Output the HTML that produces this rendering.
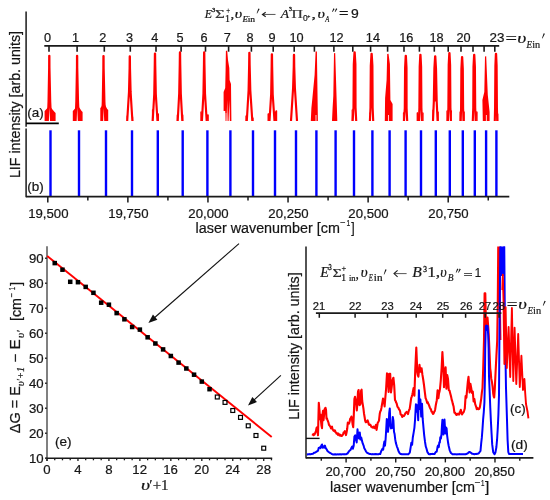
<!DOCTYPE html>
<html><head><meta charset="utf-8"><style>
html,body{margin:0;padding:0;background:#fff;width:550px;height:500px;overflow:hidden}
svg{display:block;will-change:transform}
svg text{stroke:#1a1a1a;stroke-width:0.22px}
</style></head><body>
<svg width="550" height="500" viewBox="0 0 550 500">
<rect width="550" height="500" fill="#fff"/>
<line x1="26.10" y1="11.50" x2="26.10" y2="126.80" stroke="#1a1a1a" stroke-width="1.5"/>
<line x1="26.10" y1="128.60" x2="26.10" y2="197.30" stroke="#1a1a1a" stroke-width="1.5"/>
<text transform="translate(19.80,176.90) rotate(-90) scale(1.0157,1)" x="-1.12" y="0" style="font-family:'Liberation Sans';font-size:14px;font-style:normal" fill="#151515">LIF intensity [arb. units]</text>
<line x1="44.30" y1="45.85" x2="499.20" y2="45.85" stroke="#1a1a1a" stroke-width="1.7"/>
<line x1="49.00" y1="45.85" x2="49.00" y2="51.70" stroke="#1a1a1a" stroke-width="1.6"/>
<line x1="77.10" y1="45.85" x2="77.10" y2="51.70" stroke="#1a1a1a" stroke-width="1.6"/>
<line x1="104.30" y1="45.85" x2="104.30" y2="51.70" stroke="#1a1a1a" stroke-width="1.6"/>
<line x1="130.30" y1="45.85" x2="130.30" y2="51.70" stroke="#1a1a1a" stroke-width="1.6"/>
<line x1="156.00" y1="45.85" x2="156.00" y2="51.70" stroke="#1a1a1a" stroke-width="1.6"/>
<line x1="181.10" y1="45.85" x2="181.10" y2="51.70" stroke="#1a1a1a" stroke-width="1.6"/>
<line x1="205.50" y1="45.85" x2="205.50" y2="51.70" stroke="#1a1a1a" stroke-width="1.6"/>
<line x1="228.60" y1="45.85" x2="228.60" y2="51.70" stroke="#1a1a1a" stroke-width="1.6"/>
<line x1="251.40" y1="45.85" x2="251.40" y2="51.70" stroke="#1a1a1a" stroke-width="1.6"/>
<line x1="273.20" y1="45.85" x2="273.20" y2="51.70" stroke="#1a1a1a" stroke-width="1.6"/>
<line x1="294.20" y1="45.85" x2="294.20" y2="51.70" stroke="#1a1a1a" stroke-width="1.6"/>
<line x1="314.40" y1="45.85" x2="314.40" y2="51.70" stroke="#1a1a1a" stroke-width="1.6"/>
<line x1="333.90" y1="45.85" x2="333.90" y2="51.70" stroke="#1a1a1a" stroke-width="1.6"/>
<line x1="352.80" y1="45.85" x2="352.80" y2="51.70" stroke="#1a1a1a" stroke-width="1.6"/>
<line x1="370.60" y1="45.85" x2="370.60" y2="51.70" stroke="#1a1a1a" stroke-width="1.6"/>
<line x1="387.60" y1="45.85" x2="387.60" y2="51.70" stroke="#1a1a1a" stroke-width="1.6"/>
<line x1="404.00" y1="45.85" x2="404.00" y2="51.70" stroke="#1a1a1a" stroke-width="1.6"/>
<line x1="419.40" y1="45.85" x2="419.40" y2="51.70" stroke="#1a1a1a" stroke-width="1.6"/>
<line x1="434.30" y1="45.85" x2="434.30" y2="51.70" stroke="#1a1a1a" stroke-width="1.6"/>
<line x1="448.20" y1="45.85" x2="448.20" y2="51.70" stroke="#1a1a1a" stroke-width="1.6"/>
<line x1="461.00" y1="45.85" x2="461.00" y2="51.70" stroke="#1a1a1a" stroke-width="1.6"/>
<line x1="473.00" y1="45.85" x2="473.00" y2="51.70" stroke="#1a1a1a" stroke-width="1.6"/>
<line x1="484.10" y1="45.85" x2="484.10" y2="51.70" stroke="#1a1a1a" stroke-width="1.6"/>
<line x1="494.80" y1="45.85" x2="494.80" y2="51.70" stroke="#1a1a1a" stroke-width="1.6"/>
<text x="43.98" y="41.90" style="font-family:'Liberation Sans';font-size:12.7px;font-style:normal" fill="#151515">0</text>
<text x="71.99" y="41.90" style="font-family:'Liberation Sans';font-size:12.7px;font-style:normal" fill="#151515">1</text>
<text x="99.24" y="41.90" style="font-family:'Liberation Sans';font-size:12.7px;font-style:normal" fill="#151515">2</text>
<text x="125.91" y="41.90" style="font-family:'Liberation Sans';font-size:12.7px;font-style:normal" fill="#151515">3</text>
<text x="151.31" y="41.90" style="font-family:'Liberation Sans';font-size:12.7px;font-style:normal" fill="#151515">4</text>
<text x="176.48" y="41.90" style="font-family:'Liberation Sans';font-size:12.7px;font-style:normal" fill="#151515">5</text>
<text x="200.61" y="41.90" style="font-family:'Liberation Sans';font-size:12.7px;font-style:normal" fill="#151515">6</text>
<text x="223.64" y="41.90" style="font-family:'Liberation Sans';font-size:12.7px;font-style:normal" fill="#151515">7</text>
<text x="246.48" y="41.90" style="font-family:'Liberation Sans';font-size:12.7px;font-style:normal" fill="#151515">8</text>
<text x="268.38" y="41.90" style="font-family:'Liberation Sans';font-size:12.7px;font-style:normal" fill="#151515">9</text>
<text x="289.49" y="41.90" style="font-family:'Liberation Sans';font-size:12.7px;font-style:normal" fill="#151515">10</text>
<text x="329.55" y="41.90" style="font-family:'Liberation Sans';font-size:12.7px;font-style:normal" fill="#151515">12</text>
<text x="365.83" y="41.90" style="font-family:'Liberation Sans';font-size:12.7px;font-style:normal" fill="#151515">14</text>
<text x="399.22" y="41.90" style="font-family:'Liberation Sans';font-size:12.7px;font-style:normal" fill="#151515">16</text>
<text x="429.52" y="41.90" style="font-family:'Liberation Sans';font-size:12.7px;font-style:normal" fill="#151515">18</text>
<text x="456.45" y="41.90" style="font-family:'Liberation Sans';font-size:12.7px;font-style:normal" fill="#151515">20</text>
<text transform="translate(490.20,42.00) scale(1.0564,1)" x="-0.64" y="0" style="font-family:'Liberation Sans';font-size:12.7px;font-style:normal" fill="#151515">23</text>
<text transform="translate(506.30,43.60) scale(1.2763,1)" x="-0.72" y="0" style="font-family:'Liberation Serif';font-size:16px;font-style:normal" fill="#151515">=</text>
<text transform="translate(518.10,42.60) scale(1.3162,1)" x="-0.60" y="0" style="font-family:'Liberation Serif';font-size:15px;font-style:italic" fill="#151515">υ</text>
<text transform="translate(526.40,47.90) scale(0.8743,1)" x="0.16" y="0" style="font-family:'Liberation Serif';font-size:10.5px;font-style:italic" fill="#151515">E</text>
<text transform="translate(532.40,47.90) scale(0.9744,1)" x="-0.21" y="0" style="font-family:'Liberation Serif';font-size:10.5px;font-style:normal" fill="#151515">in</text>
<polygon points="543.68,33.33 544.92,33.87 542.45,38.51 541.95,38.29" fill="#151515"/>
<text transform="translate(204.70,18.00) scale(0.9973,1)" x="0.18" y="0" style="font-family:'Liberation Serif';font-size:12px;font-style:italic" fill="#151515">E</text>
<text transform="translate(212.20,11.93) scale(0.8571,0.8756)" x="-0.34" y="0" style="font-family:'Liberation Serif';font-size:7.5px;font-style:normal;stroke:#151515;stroke-width:0.35px" fill="#151515">3</text>
<text transform="translate(215.60,17.90) scale(1.2000,0.8724)" x="-0.49" y="0" style="font-family:'Liberation Serif';font-size:14px;font-style:normal" fill="#3a3a3a">Σ</text>
<text transform="translate(226.60,13.35) scale(0.7926,1.0513)" x="-0.38" y="0" style="font-family:'Liberation Serif';font-size:8.5px;font-style:normal" fill="#151515">+</text>
<text transform="translate(225.92,21.50) scale(1.0000,1.0000)" x="-0.85" y="0" style="font-family:'Liberation Serif';font-size:10px;font-style:normal;stroke:#151515;stroke-width:0.2px" fill="#151515">1</text>
<text transform="translate(230.90,18.00) scale(1.2366,1)" x="-0.42" y="0" style="font-family:'Liberation Serif';font-size:12px;font-style:normal" fill="#151515">,</text>
<text transform="translate(235.50,18.00) scale(1.3462,1)" x="-0.48" y="0" style="font-family:'Liberation Serif';font-size:12px;font-style:italic" fill="#151515">υ</text>
<text transform="translate(242.30,21.60) scale(1.0415,1)" x="0.13" y="0" style="font-family:'Liberation Serif';font-size:8.5px;font-style:italic" fill="#151515">E</text>
<text transform="translate(247.90,21.60) scale(1.1245,1)" x="-0.17" y="0" style="font-family:'Liberation Serif';font-size:8.5px;font-style:normal" fill="#151515">in</text>
<polygon points="258.39,8.51 259.61,9.09 257.15,13.42 256.65,13.18" fill="#151515"/>
<line x1="263.00" y1="14.45" x2="275.50" y2="14.45" stroke="#444" stroke-width="0.9"/>
<polyline points="265.70,12.20 262.40,14.45 265.70,16.70" fill="none" stroke="#1a1a1a" stroke-width="1.05" stroke-linejoin="miter"/>
<text transform="translate(280.00,18.00) scale(1.1318,1)" x="0.66" y="0" style="font-family:'Liberation Serif';font-size:12px;font-style:italic" fill="#151515">A</text>
<text transform="translate(289.10,11.23) scale(0.8571,0.8955)" x="-0.34" y="0" style="font-family:'Liberation Serif';font-size:7.5px;font-style:normal;stroke:#151515;stroke-width:0.35px" fill="#151515">3</text>
<text transform="translate(291.80,18.10) scale(1.2055,0.9630)" x="-0.33" y="0" style="font-family:'Liberation Serif';font-size:13px;font-style:normal" fill="#3a3a3a">Π</text>
<text transform="translate(303.20,21.21) scale(0.9393,1.0016)" x="-0.32" y="0" style="font-family:'Liberation Sans';font-size:9px;font-style:normal" fill="#151515">0</text>
<text transform="translate(307.40,18.15) scale(0.8844,1.0101)" x="-0.27" y="0" style="font-family:'Liberation Sans';font-size:6px;font-style:normal" fill="#151515">+</text>
<text transform="translate(312.20,18.00) scale(1.5054,1)" x="-0.42" y="0" style="font-family:'Liberation Serif';font-size:12px;font-style:normal" fill="#151515">,</text>
<text transform="translate(318.20,18.00) scale(1.3462,1)" x="-0.48" y="0" style="font-family:'Liberation Serif';font-size:12px;font-style:italic" fill="#151515">υ</text>
<text transform="translate(325.00,22.16) scale(0.7463,0.9259)" x="0.49" y="0" style="font-family:'Liberation Serif';font-size:9px;font-style:italic" fill="#151515">A</text>
<polygon points="333.40,8.29 334.60,8.91 332.54,12.03 332.06,11.77" fill="#151515"/>
<polygon points="336.10,8.29 337.30,8.91 335.24,12.03 334.76,11.77" fill="#151515"/>
<text transform="translate(339.80,16.83) scale(1.2559,0.8284)" x="-0.58" y="0" style="font-family:'Liberation Sans';font-size:13px;font-style:normal" fill="#151515">=</text>
<text transform="translate(351.50,17.67) scale(1.0921,1.0013)" x="-0.58" y="0" style="font-family:'Liberation Sans';font-size:12.8px;font-style:normal" fill="#151515">9</text>
<polyline points="47.80,121.00 48.55,101.44 49.15,67.80 49.20,55.80 49.40,55.80 49.45,67.80 50.20,101.44 51.10,121.00" fill="none" stroke="#ff0000" stroke-width="2.15" stroke-linejoin="round" />
<polygon points="48.00,121.00 48.40,107.00 45.60,110.00 44.60,111.00 44.60,121.00" fill="#ff0000"/>
<polygon points="50.90,121.00 50.38,107.00 54.60,112.00 55.60,113.00 55.60,121.00" fill="#ff0000"/>
<polyline points="75.60,121.00 76.35,101.41 76.95,67.70 77.00,55.70 77.20,55.70 77.25,67.70 78.00,101.41 78.90,121.00" fill="none" stroke="#ff0000" stroke-width="2.15" stroke-linejoin="round" />
<polygon points="75.80,121.00 76.20,107.00 73.80,110.00 72.80,111.00 72.80,121.00" fill="#ff0000"/>
<polygon points="78.70,121.00 78.18,106.00 81.60,111.00 82.60,112.00 82.60,121.00" fill="#ff0000"/>
<polyline points="102.10,121.00 102.80,101.53 103.35,68.10 103.40,56.10 103.60,56.10 103.65,68.10 104.40,101.53 105.30,121.00" fill="none" stroke="#ff0000" stroke-width="2.15" stroke-linejoin="round" />
<polygon points="102.30,121.00 102.66,104.00 101.30,107.00 100.30,108.00 100.30,121.00" fill="#ff0000"/>
<polygon points="105.10,121.00 104.58,104.00 107.20,109.00 108.20,110.00 108.20,121.00" fill="#ff0000"/>
<polyline points="127.20,121.00 129.00,91.93 129.60,68.40 129.70,56.40 129.90,56.40 130.00,68.40 130.60,91.93 132.40,121.00" fill="none" stroke="#ff0000" stroke-width="2.15" stroke-linejoin="round" />
<polygon points="126.60,121.00 127.25,116.50 127.80,115.00 126.60,115.80 126.60,121.00" fill="#ff0000"/>
<polygon points="133.00,121.00 132.35,117.25 132.00,116.00 133.20,116.80 133.20,121.00" fill="#ff0000"/>
<polyline points="152.70,121.00 154.26,94.00 154.75,65.50 154.90,53.50 155.10,53.50 155.25,65.50 155.80,94.00 157.50,121.00" fill="none" stroke="#ff0000" stroke-width="2.15" stroke-linejoin="round" />
<polygon points="152.10,121.00 152.68,112.00 153.10,109.00 151.90,109.80 151.90,121.00" fill="#ff0000"/>
<polygon points="158.10,121.00 157.47,115.00 157.80,113.00 159.00,113.80 159.00,121.00" fill="#ff0000"/>
<polyline points="177.70,121.00 179.20,93.56 179.75,64.40 179.90,52.40 180.10,52.40 180.25,64.40 180.80,93.56 182.30,121.00" fill="none" stroke="#ff0000" stroke-width="2.15" stroke-linejoin="round" />
<polygon points="177.10,121.00 177.68,115.75 177.90,114.00 176.70,114.80 176.70,121.00" fill="#ff0000"/>
<polygon points="182.90,121.00 182.32,115.75 182.20,114.00 183.40,114.80 183.40,121.00" fill="#ff0000"/>
<polyline points="201.90,121.00 203.46,93.56 203.95,64.40 204.10,52.40 204.30,52.40 204.45,64.40 205.00,93.56 206.70,121.00" fill="none" stroke="#ff0000" stroke-width="2.15" stroke-linejoin="round" />
<polygon points="201.30,121.00 201.88,113.50 201.50,111.00 200.30,111.80 200.30,121.00" fill="#ff0000"/>
<polygon points="207.30,121.00 206.67,115.75 207.60,114.00 208.80,114.80 208.80,121.00" fill="#ff0000"/>
<polyline points="246.80,121.00 248.59,90.27 249.15,64.70 249.30,52.70 249.50,52.70 249.65,64.70 250.30,90.27 252.30,121.00" fill="none" stroke="#ff0000" stroke-width="2.15" stroke-linejoin="round" />
<polygon points="246.20,121.00 246.85,116.50 246.60,115.00 245.40,115.80 245.40,121.00" fill="#ff0000"/>
<polygon points="252.90,121.00 252.18,118.00 252.40,117.00 253.60,117.80 253.60,121.00" fill="#ff0000"/>
<polyline points="269.50,121.00 271.16,94.28 271.65,66.20 271.80,54.20 272.00,54.20 272.15,66.20 272.70,94.28 274.50,121.00" fill="none" stroke="#ff0000" stroke-width="2.15" stroke-linejoin="round" />
<polygon points="268.90,121.00 269.50,115.00 268.70,113.00 267.50,113.80 267.50,121.00" fill="#ff0000"/>
<polygon points="275.10,121.00 274.45,112.75 276.00,110.00 277.20,110.80 277.20,121.00" fill="#ff0000"/>
<polyline points="291.00,121.00 293.10,87.95 293.75,66.90 293.90,54.90 294.10,54.90 294.25,66.90 294.90,87.95 297.00,121.00" fill="none" stroke="#ff0000" stroke-width="2.15" stroke-linejoin="round" />
<polygon points="290.40,121.00 291.15,118.75 291.60,118.00 290.40,118.80 290.40,121.00" fill="#ff0000"/>
<polygon points="297.60,121.00 296.85,118.75 296.00,118.00 297.20,118.80 297.20,121.00" fill="#ff0000"/>
<polyline points="352.70,121.00 353.50,107.24 353.80,64.20 354.50,52.20 354.70,52.20 355.40,64.20 355.53,107.24 356.20,121.00" fill="none" stroke="#ff0000" stroke-width="2.15" stroke-linejoin="round" />
<polygon points="353.80,64.20 354.50,52.20 354.70,52.20 355.40,64.20 355.53,107.24 353.50,107.24" fill="#ff0000"/>
<polygon points="352.10,121.00 352.57,112.00 352.80,109.00 351.60,109.80 351.60,121.00" fill="#ff0000"/>
<polyline points="369.90,121.00 370.50,107.58 370.80,65.90 371.50,53.90 371.70,53.90 372.40,65.90 372.64,107.58 373.20,121.00" fill="none" stroke="#ff0000" stroke-width="2.15" stroke-linejoin="round" />
<polygon points="370.80,65.90 371.50,53.90 371.70,53.90 372.40,65.90 372.64,107.58 370.50,107.58" fill="#ff0000"/>
<polygon points="369.30,121.00 369.73,114.25 370.60,112.00 369.40,112.80 369.40,121.00" fill="#ff0000"/>
<polyline points="404.00,121.00 404.80,107.96 405.10,67.80 405.70,55.80 405.90,55.80 406.50,67.80 406.58,107.96 407.20,121.00" fill="none" stroke="#ff0000" stroke-width="2.15" stroke-linejoin="round" />
<polygon points="405.10,67.80 405.70,55.80 405.90,55.80 406.50,67.80 406.58,107.96 404.80,107.96" fill="#ff0000"/>
<polygon points="403.40,121.00 403.85,114.25 404.10,112.00 402.90,112.80 402.90,121.00" fill="#ff0000"/>
<polyline points="418.90,121.00 419.40,107.74 419.70,66.70 420.30,54.70 420.50,54.70 421.10,66.70 421.40,107.74 421.90,121.00" fill="none" stroke="#ff0000" stroke-width="2.15" stroke-linejoin="round" />
<polygon points="419.70,66.70 420.30,54.70 420.50,54.70 421.10,66.70 421.40,107.74 419.40,107.74" fill="#ff0000"/>
<polygon points="418.30,121.00 418.67,114.25 417.80,112.00 416.60,112.80 416.60,121.00" fill="#ff0000"/>
<polygon points="422.50,121.00 422.12,114.25 422.40,112.00 423.60,112.80 423.60,121.00" fill="#ff0000"/>
<polyline points="433.00,121.00 433.82,101.59 434.40,68.30 435.10,56.30 435.30,56.30 436.00,68.30 436.70,101.59 437.60,121.00" fill="none" stroke="#ff0000" stroke-width="2.15" stroke-linejoin="round" />
<polygon points="434.40,68.30 435.10,56.30 435.30,56.30 436.00,68.30 436.70,101.59 433.82,101.59" fill="#ff0000"/>
<polygon points="433.20,121.00 433.88,106.00 433.40,109.00 432.40,110.00 432.40,121.00" fill="#ff0000"/>
<polygon points="437.40,121.00 436.64,106.00 437.80,111.00 438.80,112.00 438.80,121.00" fill="#ff0000"/>
<polyline points="447.90,121.00 448.40,107.42 448.70,65.10 449.30,53.10 449.50,53.10 450.10,65.10 450.40,107.42 450.90,121.00" fill="none" stroke="#ff0000" stroke-width="2.15" stroke-linejoin="round" />
<polygon points="448.70,65.10 449.30,53.10 449.50,53.10 450.10,65.10 450.40,107.42 448.40,107.42" fill="#ff0000"/>
<polygon points="447.30,121.00 447.67,112.75 447.60,110.00 446.40,110.80 446.40,121.00" fill="#ff0000"/>
<polygon points="451.50,121.00 451.12,112.75 450.80,110.00 452.00,110.80 452.00,121.00" fill="#ff0000"/>
<polyline points="460.70,121.00 461.10,108.22 461.40,69.10 462.00,57.10 462.20,57.10 462.80,69.10 463.10,108.22 463.50,121.00" fill="none" stroke="#ff0000" stroke-width="2.15" stroke-linejoin="round" />
<polygon points="461.40,69.10 462.00,57.10 462.20,57.10 462.80,69.10 463.10,108.22 461.10,108.22" fill="#ff0000"/>
<polygon points="460.10,121.00 460.45,113.50 460.70,111.00 459.50,111.80 459.50,121.00" fill="#ff0000"/>
<polygon points="464.10,121.00 463.75,113.50 463.60,111.00 464.80,111.80 464.80,121.00" fill="#ff0000"/>
<polyline points="472.80,121.00 473.27,107.74 473.50,66.70 474.10,54.70 474.30,54.70 474.90,66.70 475.20,107.74 475.70,121.00" fill="none" stroke="#ff0000" stroke-width="2.15" stroke-linejoin="round" />
<polygon points="473.50,66.70 474.10,54.70 474.30,54.70 474.90,66.70 475.20,107.74 473.27,107.74" fill="#ff0000"/>
<polygon points="472.20,121.00 472.55,113.50 473.20,111.00 472.00,111.80 472.00,121.00" fill="#ff0000"/>
<polygon points="476.30,121.00 475.93,113.50 476.40,111.00 477.60,111.80 477.60,121.00" fill="#ff0000"/>
<polyline points="494.80,121.00 495.10,107.58 495.40,65.90 495.90,53.90 496.10,53.90 496.60,65.90 496.90,107.58 497.20,121.00" fill="none" stroke="#ff0000" stroke-width="2.15" stroke-linejoin="round" />
<polygon points="495.40,65.90 495.90,53.90 496.10,53.90 496.60,65.90 496.90,107.58 495.10,107.58" fill="#ff0000"/>
<polygon points="494.20,121.00 494.50,115.00 496.00,113.00 494.80,113.80 494.80,121.00" fill="#ff0000"/>
<polygon points="497.80,121.00 497.50,115.00 497.20,113.00 498.40,113.80 498.40,121.00" fill="#ff0000"/>
<polygon points="315.60,51.60 316.90,51.40 317.90,121.00 310.80,121.00 311.40,108.00 312.40,98.00 314.60,75.00" fill="#ff0000"/>
<line x1="316.00" y1="121.00" x2="316.00" y2="115.00" stroke="#fff" stroke-width="0.8"/>
<polygon points="334.00,53.20 335.20,53.00 337.30,121.00 332.00,121.00 332.60,108.00 333.30,96.00" fill="#ff0000"/>
<polygon points="387.20,54.00 388.50,53.80 389.90,64.00 390.40,100.00 392.60,104.00 392.60,121.00 384.80,121.00 385.10,98.00 386.60,80.00" fill="#ff0000"/>
<line x1="388.50" y1="121.00" x2="388.50" y2="115.00" stroke="#fff" stroke-width="0.8"/>
<polygon points="485.00,56.40 486.20,56.20 487.80,95.00 489.60,112.00 489.60,121.00 482.80,121.00 482.40,100.00 484.30,92.00" fill="#ff0000"/>
<line x1="486.40" y1="121.00" x2="486.40" y2="115.00" stroke="#fff" stroke-width="0.8"/>
<polygon points="225.90,51.00 227.20,50.60 228.00,60.00 229.30,68.00 229.60,80.00 231.00,84.00 231.40,121.00 229.80,121.00 229.40,100.00 228.60,121.00 227.60,121.00 227.20,100.00 226.60,121.00 225.40,121.00 225.20,111.00 223.60,111.00 223.60,92.00 225.20,88.00 225.60,70.00" fill="#ff0000"/>
<line x1="226.00" y1="121.00" x2="226.00" y2="113.00" stroke="#fff" stroke-width="0.6"/>
<line x1="26.10" y1="123.40" x2="58.80" y2="123.40" stroke="#000" stroke-width="1.6"/>
<text transform="translate(28.00,116.90) scale(1.0146,1)" x="-0.80" y="0" style="font-family:'Liberation Sans';font-size:13.3px;font-style:normal" fill="#151515">(a)</text>
<line x1="50.50" y1="130.30" x2="50.50" y2="196.40" stroke="#0000ff" stroke-width="2.4"/>
<line x1="79.00" y1="130.30" x2="79.00" y2="196.40" stroke="#0000ff" stroke-width="2.4"/>
<line x1="106.00" y1="130.30" x2="106.00" y2="196.40" stroke="#0000ff" stroke-width="2.4"/>
<line x1="132.00" y1="130.30" x2="132.00" y2="196.40" stroke="#0000ff" stroke-width="2.4"/>
<line x1="157.80" y1="130.30" x2="157.80" y2="196.40" stroke="#0000ff" stroke-width="2.4"/>
<line x1="182.70" y1="130.30" x2="182.70" y2="196.40" stroke="#0000ff" stroke-width="2.4"/>
<line x1="207.40" y1="130.30" x2="207.40" y2="196.40" stroke="#0000ff" stroke-width="2.4"/>
<line x1="230.40" y1="130.30" x2="230.40" y2="196.40" stroke="#0000ff" stroke-width="2.4"/>
<line x1="253.00" y1="130.30" x2="253.00" y2="196.40" stroke="#0000ff" stroke-width="2.4"/>
<line x1="275.00" y1="130.30" x2="275.00" y2="196.40" stroke="#0000ff" stroke-width="2.4"/>
<line x1="296.00" y1="130.30" x2="296.00" y2="196.40" stroke="#0000ff" stroke-width="2.4"/>
<line x1="316.40" y1="130.30" x2="316.40" y2="196.40" stroke="#0000ff" stroke-width="2.4"/>
<line x1="335.60" y1="130.30" x2="335.60" y2="196.40" stroke="#0000ff" stroke-width="2.4"/>
<line x1="354.00" y1="130.30" x2="354.00" y2="196.40" stroke="#0000ff" stroke-width="2.4"/>
<line x1="372.40" y1="130.30" x2="372.40" y2="196.40" stroke="#0000ff" stroke-width="2.4"/>
<line x1="389.60" y1="130.30" x2="389.60" y2="196.40" stroke="#0000ff" stroke-width="2.4"/>
<line x1="405.60" y1="130.30" x2="405.60" y2="196.40" stroke="#0000ff" stroke-width="2.4"/>
<line x1="421.00" y1="130.30" x2="421.00" y2="196.40" stroke="#0000ff" stroke-width="2.4"/>
<line x1="435.80" y1="130.30" x2="435.80" y2="196.40" stroke="#0000ff" stroke-width="2.4"/>
<line x1="449.80" y1="130.30" x2="449.80" y2="196.40" stroke="#0000ff" stroke-width="2.4"/>
<line x1="462.80" y1="130.30" x2="462.80" y2="196.40" stroke="#0000ff" stroke-width="2.4"/>
<line x1="474.80" y1="130.30" x2="474.80" y2="196.40" stroke="#0000ff" stroke-width="2.4"/>
<line x1="486.10" y1="130.30" x2="486.10" y2="196.40" stroke="#0000ff" stroke-width="2.4"/>
<line x1="496.40" y1="130.30" x2="496.40" y2="196.40" stroke="#0000ff" stroke-width="2.4"/>
<text transform="translate(28.00,190.60) scale(1.0146,1)" x="-0.80" y="0" style="font-family:'Liberation Sans';font-size:13.3px;font-style:normal" fill="#151515">(b)</text>
<line x1="26.10" y1="196.60" x2="509.30" y2="196.60" stroke="#1a1a1a" stroke-width="1.6"/>
<line x1="47.80" y1="196.60" x2="47.80" y2="202.60" stroke="#1a1a1a" stroke-width="1.5"/>
<line x1="87.84" y1="196.60" x2="87.84" y2="200.60" stroke="#1a1a1a" stroke-width="1.5"/>
<line x1="127.88" y1="196.60" x2="127.88" y2="202.60" stroke="#1a1a1a" stroke-width="1.5"/>
<line x1="167.92" y1="196.60" x2="167.92" y2="200.60" stroke="#1a1a1a" stroke-width="1.5"/>
<line x1="207.96" y1="196.60" x2="207.96" y2="202.60" stroke="#1a1a1a" stroke-width="1.5"/>
<line x1="248.00" y1="196.60" x2="248.00" y2="200.60" stroke="#1a1a1a" stroke-width="1.5"/>
<line x1="288.04" y1="196.60" x2="288.04" y2="202.60" stroke="#1a1a1a" stroke-width="1.5"/>
<line x1="328.08" y1="196.60" x2="328.08" y2="200.60" stroke="#1a1a1a" stroke-width="1.5"/>
<line x1="368.12" y1="196.60" x2="368.12" y2="202.60" stroke="#1a1a1a" stroke-width="1.5"/>
<line x1="408.16" y1="196.60" x2="408.16" y2="200.60" stroke="#1a1a1a" stroke-width="1.5"/>
<line x1="448.20" y1="196.60" x2="448.20" y2="202.60" stroke="#1a1a1a" stroke-width="1.5"/>
<line x1="488.24" y1="196.60" x2="488.24" y2="200.60" stroke="#1a1a1a" stroke-width="1.5"/>
<text x="28.16" y="217.60" style="font-family:'Liberation Sans';font-size:13.2px;font-style:normal" fill="#151515">19,500</text>
<text x="108.16" y="217.60" style="font-family:'Liberation Sans';font-size:13.2px;font-style:normal" fill="#151515">19,750</text>
<text x="188.32" y="217.60" style="font-family:'Liberation Sans';font-size:13.2px;font-style:normal" fill="#151515">20,000</text>
<text x="268.32" y="217.60" style="font-family:'Liberation Sans';font-size:13.2px;font-style:normal" fill="#151515">20,250</text>
<text x="348.32" y="217.60" style="font-family:'Liberation Sans';font-size:13.2px;font-style:normal" fill="#151515">20,500</text>
<text x="428.32" y="217.60" style="font-family:'Liberation Sans';font-size:13.2px;font-style:normal" fill="#151515">20,750</text>
<text x="195.57" y="232.70" style="font-family:'Liberation Sans';font-size:14.35px;font-style:normal" fill="#151515">laser wavenumber [cm</text>
<text transform="translate(340.40,226.30) scale(0.9782,1)" x="-0.43" y="0" style="font-family:'Liberation Sans';font-size:9.5px;font-style:normal" fill="#151515">−</text>
<text transform="translate(346.90,226.40) scale(0.7018,1)" x="-0.71" y="0" style="font-family:'Liberation Sans';font-size:9.5px;font-style:normal" fill="#151515">1</text>
<text transform="translate(351.30,232.70) scale(0.8498,1)" x="-0.07" y="0" style="font-family:'Liberation Sans';font-size:14.35px;font-style:normal" fill="#151515">]</text>
<line x1="47.00" y1="246.20" x2="47.00" y2="461.00" stroke="#6a6a6a" stroke-width="1.7"/>
<line x1="45.50" y1="458.30" x2="272.20" y2="458.30" stroke="#1a1a1a" stroke-width="1.6"/>
<line x1="45.00" y1="458.30" x2="47.00" y2="458.30" stroke="#333" stroke-width="1.4"/>
<text x="28.99" y="462.80" style="font-family:'Liberation Sans';font-size:13.2px;font-style:normal" fill="#151515">10</text>
<line x1="45.00" y1="433.30" x2="47.00" y2="433.30" stroke="#333" stroke-width="1.4"/>
<text x="28.99" y="437.80" style="font-family:'Liberation Sans';font-size:13.2px;font-style:normal" fill="#151515">20</text>
<line x1="45.00" y1="408.30" x2="47.00" y2="408.30" stroke="#333" stroke-width="1.4"/>
<text x="28.99" y="412.80" style="font-family:'Liberation Sans';font-size:13.2px;font-style:normal" fill="#151515">30</text>
<line x1="45.00" y1="383.30" x2="47.00" y2="383.30" stroke="#333" stroke-width="1.4"/>
<text x="28.99" y="387.80" style="font-family:'Liberation Sans';font-size:13.2px;font-style:normal" fill="#151515">40</text>
<line x1="45.00" y1="358.30" x2="47.00" y2="358.30" stroke="#333" stroke-width="1.4"/>
<text x="28.99" y="362.80" style="font-family:'Liberation Sans';font-size:13.2px;font-style:normal" fill="#151515">50</text>
<line x1="45.00" y1="333.30" x2="47.00" y2="333.30" stroke="#333" stroke-width="1.4"/>
<text x="28.99" y="337.80" style="font-family:'Liberation Sans';font-size:13.2px;font-style:normal" fill="#151515">60</text>
<line x1="45.00" y1="308.30" x2="47.00" y2="308.30" stroke="#333" stroke-width="1.4"/>
<text x="28.99" y="312.80" style="font-family:'Liberation Sans';font-size:13.2px;font-style:normal" fill="#151515">70</text>
<line x1="45.00" y1="283.30" x2="47.00" y2="283.30" stroke="#333" stroke-width="1.4"/>
<text x="28.99" y="287.80" style="font-family:'Liberation Sans';font-size:13.2px;font-style:normal" fill="#151515">80</text>
<line x1="45.00" y1="258.30" x2="47.00" y2="258.30" stroke="#333" stroke-width="1.4"/>
<text x="28.99" y="262.80" style="font-family:'Liberation Sans';font-size:13.2px;font-style:normal" fill="#151515">90</text>
<line x1="47.00" y1="458.30" x2="47.00" y2="460.90" stroke="#1a1a1a" stroke-width="1.3"/>
<line x1="54.74" y1="458.30" x2="54.74" y2="460.30" stroke="#1a1a1a" stroke-width="1.3"/>
<line x1="62.48" y1="458.30" x2="62.48" y2="460.30" stroke="#1a1a1a" stroke-width="1.3"/>
<line x1="70.22" y1="458.30" x2="70.22" y2="460.30" stroke="#1a1a1a" stroke-width="1.3"/>
<line x1="77.96" y1="458.30" x2="77.96" y2="460.90" stroke="#1a1a1a" stroke-width="1.3"/>
<line x1="85.70" y1="458.30" x2="85.70" y2="460.30" stroke="#1a1a1a" stroke-width="1.3"/>
<line x1="93.44" y1="458.30" x2="93.44" y2="460.30" stroke="#1a1a1a" stroke-width="1.3"/>
<line x1="101.18" y1="458.30" x2="101.18" y2="460.30" stroke="#1a1a1a" stroke-width="1.3"/>
<line x1="108.92" y1="458.30" x2="108.92" y2="460.90" stroke="#1a1a1a" stroke-width="1.3"/>
<line x1="116.66" y1="458.30" x2="116.66" y2="460.30" stroke="#1a1a1a" stroke-width="1.3"/>
<line x1="124.40" y1="458.30" x2="124.40" y2="460.30" stroke="#1a1a1a" stroke-width="1.3"/>
<line x1="132.14" y1="458.30" x2="132.14" y2="460.30" stroke="#1a1a1a" stroke-width="1.3"/>
<line x1="139.88" y1="458.30" x2="139.88" y2="460.90" stroke="#1a1a1a" stroke-width="1.3"/>
<line x1="147.62" y1="458.30" x2="147.62" y2="460.30" stroke="#1a1a1a" stroke-width="1.3"/>
<line x1="155.36" y1="458.30" x2="155.36" y2="460.30" stroke="#1a1a1a" stroke-width="1.3"/>
<line x1="163.10" y1="458.30" x2="163.10" y2="460.30" stroke="#1a1a1a" stroke-width="1.3"/>
<line x1="170.84" y1="458.30" x2="170.84" y2="460.90" stroke="#1a1a1a" stroke-width="1.3"/>
<line x1="178.58" y1="458.30" x2="178.58" y2="460.30" stroke="#1a1a1a" stroke-width="1.3"/>
<line x1="186.32" y1="458.30" x2="186.32" y2="460.30" stroke="#1a1a1a" stroke-width="1.3"/>
<line x1="194.06" y1="458.30" x2="194.06" y2="460.30" stroke="#1a1a1a" stroke-width="1.3"/>
<line x1="201.80" y1="458.30" x2="201.80" y2="460.90" stroke="#1a1a1a" stroke-width="1.3"/>
<line x1="209.54" y1="458.30" x2="209.54" y2="460.30" stroke="#1a1a1a" stroke-width="1.3"/>
<line x1="217.28" y1="458.30" x2="217.28" y2="460.30" stroke="#1a1a1a" stroke-width="1.3"/>
<line x1="225.02" y1="458.30" x2="225.02" y2="460.30" stroke="#1a1a1a" stroke-width="1.3"/>
<line x1="232.76" y1="458.30" x2="232.76" y2="460.90" stroke="#1a1a1a" stroke-width="1.3"/>
<line x1="240.50" y1="458.30" x2="240.50" y2="460.30" stroke="#1a1a1a" stroke-width="1.3"/>
<line x1="248.24" y1="458.30" x2="248.24" y2="460.30" stroke="#1a1a1a" stroke-width="1.3"/>
<line x1="255.98" y1="458.30" x2="255.98" y2="460.30" stroke="#1a1a1a" stroke-width="1.3"/>
<line x1="263.72" y1="458.30" x2="263.72" y2="460.90" stroke="#1a1a1a" stroke-width="1.3"/>
<line x1="271.46" y1="458.30" x2="271.46" y2="460.30" stroke="#1a1a1a" stroke-width="1.3"/>
<text x="43.34" y="473.80" style="font-family:'Liberation Sans';font-size:13.2px;font-style:normal" fill="#151515">0</text>
<text x="74.33" y="473.80" style="font-family:'Liberation Sans';font-size:13.2px;font-style:normal" fill="#151515">4</text>
<text x="105.26" y="473.80" style="font-family:'Liberation Sans';font-size:13.2px;font-style:normal" fill="#151515">8</text>
<text x="132.35" y="473.80" style="font-family:'Liberation Sans';font-size:13.2px;font-style:normal" fill="#151515">12</text>
<text x="163.28" y="473.80" style="font-family:'Liberation Sans';font-size:13.2px;font-style:normal" fill="#151515">16</text>
<text x="194.37" y="473.80" style="font-family:'Liberation Sans';font-size:13.2px;font-style:normal" fill="#151515">20</text>
<text x="225.26" y="473.80" style="font-family:'Liberation Sans';font-size:13.2px;font-style:normal" fill="#151515">24</text>
<text x="256.32" y="473.80" style="font-family:'Liberation Sans';font-size:13.2px;font-style:normal" fill="#151515">28</text>
<line x1="47.20" y1="256.00" x2="271.70" y2="437.00" stroke="#ff0000" stroke-width="1.9"/>
<rect x="52.49" y="260.85" width="4.5" height="4.5" fill="#000"/>
<rect x="60.23" y="267.45" width="4.5" height="4.5" fill="#000"/>
<rect x="67.97" y="279.55" width="4.5" height="4.5" fill="#000"/>
<rect x="75.71" y="279.95" width="4.5" height="4.5" fill="#000"/>
<rect x="83.45" y="284.65" width="4.5" height="4.5" fill="#000"/>
<rect x="91.19" y="290.55" width="4.5" height="4.5" fill="#000"/>
<rect x="98.93" y="300.45" width="4.5" height="4.5" fill="#000"/>
<rect x="106.67" y="302.45" width="4.5" height="4.5" fill="#000"/>
<rect x="114.41" y="310.85" width="4.5" height="4.5" fill="#000"/>
<rect x="122.15" y="317.05" width="4.5" height="4.5" fill="#000"/>
<rect x="129.89" y="324.75" width="4.5" height="4.5" fill="#000"/>
<rect x="137.63" y="327.35" width="4.5" height="4.5" fill="#000"/>
<rect x="145.37" y="335.05" width="4.5" height="4.5" fill="#000"/>
<rect x="153.11" y="341.25" width="4.5" height="4.5" fill="#000"/>
<rect x="160.85" y="347.15" width="4.5" height="4.5" fill="#000"/>
<rect x="168.59" y="353.75" width="4.5" height="4.5" fill="#000"/>
<rect x="176.33" y="360.35" width="4.5" height="4.5" fill="#000"/>
<rect x="184.07" y="366.25" width="4.5" height="4.5" fill="#000"/>
<rect x="191.81" y="372.45" width="4.5" height="4.5" fill="#000"/>
<rect x="199.55" y="379.35" width="4.5" height="4.5" fill="#000"/>
<rect x="207.29" y="386.95" width="4.5" height="4.5" fill="#000"/>
<rect x="215.33" y="395.05" width="3.9" height="3.9" fill="none" stroke="#000" stroke-width="1.2"/>
<rect x="223.07" y="400.45" width="3.9" height="3.9" fill="none" stroke="#000" stroke-width="1.2"/>
<rect x="230.81" y="408.55" width="3.9" height="3.9" fill="none" stroke="#000" stroke-width="1.2"/>
<rect x="238.55" y="415.45" width="3.9" height="3.9" fill="none" stroke="#000" stroke-width="1.2"/>
<rect x="246.29" y="423.85" width="3.9" height="3.9" fill="none" stroke="#000" stroke-width="1.2"/>
<rect x="254.03" y="433.55" width="3.9" height="3.9" fill="none" stroke="#000" stroke-width="1.2"/>
<rect x="261.77" y="446.25" width="3.9" height="3.9" fill="none" stroke="#000" stroke-width="1.2"/>
<text transform="translate(55.70,446.30) scale(1.0450,1)" x="-0.78" y="0" style="font-family:'Liberation Sans';font-size:13px;font-style:normal" fill="#151515">(e)</text>
<text transform="translate(20.30,432.80) rotate(-90) scale(1.0315,1)" x="-0.35" y="0" style="font-family:'Liberation Sans';font-size:14px;font-style:normal" fill="#151515">ΔG = E</text>
<text transform="translate(23.50,385.60) rotate(-90) scale(1.0850,1)" x="-0.38" y="0" style="font-family:'Liberation Serif';font-size:9.5px;font-style:italic" fill="#151515">υ′+1</text>
<text transform="translate(20.30,362.00) rotate(-90) scale(1.0998,1)" x="-0.63" y="0" style="font-family:'Liberation Sans';font-size:14px;font-style:normal" fill="#151515">− E</text>
<text transform="translate(23.50,337.50) rotate(-90) scale(1.1750,1)" x="-0.38" y="0" style="font-family:'Liberation Serif';font-size:9.5px;font-style:italic" fill="#151515">υ′</text>
<text transform="translate(20.80,320.00) rotate(-90) scale(1.0150,1)" x="-0.98" y="0" style="font-family:'Liberation Sans';font-size:14px;font-style:normal" fill="#151515">[cm</text>
<text transform="translate(14.70,297.20) rotate(-90) scale(0.8081,1)" x="-0.43" y="0" style="font-family:'Liberation Sans';font-size:9.5px;font-style:normal" fill="#151515">−</text>
<text transform="translate(14.70,289.90) rotate(-90) scale(0.6292,1)" x="-0.71" y="0" style="font-family:'Liberation Sans';font-size:9.5px;font-style:normal" fill="#151515">1</text>
<text transform="translate(20.80,285.80) rotate(-90) scale(0.9756,1)" x="-0.07" y="0" style="font-family:'Liberation Sans';font-size:14px;font-style:normal" fill="#151515">]</text>
<text transform="translate(141.80,489.80) scale(1.3162,1)" x="-0.60" y="0" style="font-family:'Liberation Serif';font-size:15px;font-style:italic" fill="#151515">υ</text>
<text transform="translate(150.00,489.80) scale(1.0019,1)" x="-0.67" y="0" style="font-family:'Liberation Serif';font-size:15px;font-style:normal" fill="#151515">′+1</text>
<line x1="239.00" y1="243.60" x2="154.42" y2="317.73" stroke="#111" stroke-width="1.1"/>
<polygon points="148.40,323.00 152.93,314.51 157.41,319.63" fill="#111"/>
<line x1="280.90" y1="375.40" x2="253.89" y2="400.19" stroke="#111" stroke-width="1.1"/>
<polygon points="248.00,405.60 252.33,397.01 256.93,402.02" fill="#111"/>
<defs><clipPath id="cp"><rect x="306.8" y="246.4" width="240" height="211"/></clipPath></defs>
<g clip-path="url(#cp)">
<polyline points="312.50,435.68 313.00,434.37 313.50,435.11 314.00,433.90 314.50,434.56 315.00,433.51 315.50,432.20 316.00,431.01 316.50,428.17 317.00,427.38 317.50,431.23 318.00,435.26 318.80,402.86 319.50,410.59 320.00,419.32 320.50,414.50 321.00,421.23 321.50,425.81 322.00,428.14 322.50,414.81 323.00,410.86 323.50,420.18 324.00,415.65 324.50,409.62 325.00,408.36 325.50,407.81 326.00,409.66 326.50,418.57 327.00,418.43 327.50,420.15 328.00,421.25 328.50,422.77 329.00,425.09 329.50,425.21 330.00,426.21 330.50,426.97 331.00,428.32 331.50,427.37 332.00,426.67 332.50,429.15 333.00,429.92 333.50,430.64 334.00,431.03 334.50,430.36 335.00,430.54 335.50,432.13 336.00,432.55 336.50,433.68 337.00,433.75 337.50,433.28 338.00,434.86 338.50,433.65 339.00,434.52 339.50,435.46 340.00,434.71 340.50,435.65 341.00,435.17 341.50,435.97 342.00,435.81 342.50,435.13 343.05,434.58 343.60,432.46 344.20,432.25 344.80,431.17 345.40,433.24 346.00,435.12 346.60,432.21 347.20,428.80 347.80,422.55 348.40,423.80 349.00,423.61 349.60,421.76 350.20,418.66 350.80,418.09 351.40,416.58 352.00,419.21 352.60,424.19 353.20,427.10 353.80,415.14 354.40,399.13 355.00,396.80 355.60,399.71 356.20,403.21 356.80,410.48 357.40,403.33 358.00,391.55 358.60,390.00 359.20,404.67 359.80,405.05 360.40,403.91 361.00,390.89 361.60,389.69 362.20,400.97 362.80,404.66 363.40,408.40 364.00,413.45 364.60,416.95 365.20,420.89 365.80,422.22 366.40,421.97 367.00,421.12 367.60,420.32 368.20,422.12 368.80,424.37 369.40,424.86 370.00,424.57 370.60,425.01 371.20,426.65 371.80,426.86 372.40,427.52 373.00,427.62 373.60,426.54 374.20,427.13 374.80,428.21 375.40,427.12 376.00,424.80 376.60,429.92 377.20,426.10 377.80,422.67 378.40,421.94 379.00,420.61 379.80,413.42 380.33,411.29 380.87,410.64 381.40,408.01 381.93,404.82 382.47,401.88 383.00,398.59 383.80,400.51 384.60,406.39 385.13,399.90 385.67,393.77 386.20,387.28 387.00,373.35 387.80,374.35 388.60,391.87 389.40,373.81 390.20,373.77 391.00,392.35 391.80,386.13 392.60,379.76 393.40,377.72 394.20,385.43 395.00,400.09 395.53,400.74 396.07,402.37 396.60,403.25 397.40,406.48 397.93,407.45 398.47,407.84 399.00,409.39 399.53,409.79 400.07,411.14 400.60,414.41 401.13,414.72 401.67,415.10 402.20,416.88 402.73,415.42 403.27,415.78 403.80,416.06 404.33,415.32 404.87,414.49 405.40,413.17 405.93,412.83 406.47,411.93 407.00,412.49 407.50,412.86 408.00,414.10 408.53,411.69 409.07,409.90 409.60,409.36 410.13,405.94 410.67,401.97 411.20,398.15 411.73,396.57 412.27,394.83 412.80,392.31 413.60,388.03 414.40,395.74 415.20,371.15 415.75,359.15 416.30,347.60 416.80,359.57 417.30,372.35 417.85,375.22 418.40,376.71 418.95,371.19 419.50,364.88 420.00,368.82 420.50,371.76 421.05,369.90 421.60,368.31 422.40,374.65 423.20,379.47 424.00,385.02 424.80,391.92 425.60,398.21 426.13,399.16 426.67,401.08 427.20,402.94 427.73,402.19 428.27,403.76 428.80,404.74 429.33,406.11 429.87,407.65 430.40,408.76 430.93,409.29 431.47,411.45 432.00,411.70 432.53,413.07 433.07,413.92 433.60,413.41 434.13,411.82 434.67,411.20 435.20,409.20 435.73,405.54 436.27,402.80 436.80,400.17 437.60,390.33 438.40,398.15 438.93,393.76 439.47,391.79 440.00,388.86 440.80,380.28 441.60,368.53 442.40,352.09 442.95,361.34 443.50,371.13 444.00,387.25 444.80,373.87 445.60,367.25 446.40,388.78 447.20,375.08 448.00,379.07 448.80,390.19 449.60,390.68 450.13,392.89 450.67,395.09 451.20,397.13 451.73,399.89 452.27,401.43 452.80,403.85 453.60,406.54 454.40,412.74 454.93,412.54 455.47,413.52 456.00,414.55 456.53,414.86 457.07,413.72 457.60,414.35 458.13,413.87 458.67,414.19 459.20,414.44 459.73,412.20 460.27,411.63 460.80,409.83 461.60,413.51 462.13,414.41 462.67,412.74 463.20,412.75 463.73,411.87 464.27,410.23 464.80,408.49 465.60,396.03 466.40,397.70 467.20,388.51 467.85,381.69 468.50,376.91 469.05,384.35 469.60,392.40 470.40,383.69 471.20,388.01 472.00,392.91 472.80,391.67 473.60,401.54 474.40,399.10 475.20,404.20 475.73,405.61 476.27,407.22 476.80,409.15 477.30,407.91 477.95,408.71 478.60,409.26 479.25,408.79 479.90,407.06 480.55,403.03 481.20,398.80 481.85,392.57 482.50,388.11 483.20,368.80 484.00,340.61 484.60,293.40 485.30,293.40 485.80,317.90 486.60,329.23 487.50,317.53 488.40,329.23 489.00,340.31 489.60,354.31 490.20,368.31 490.70,372.18 491.20,378.39 492.00,382.29 492.60,386.76 493.20,393.49 493.70,396.24 494.20,397.50 494.80,388.81 495.60,371.82 496.40,355.98 497.20,340.88 497.80,300.60 498.30,240.00 498.80,240.00 499.30,240.00 499.80,299.71 500.40,340.00" fill="none" stroke="#ff0000" stroke-width="2.1" stroke-linejoin="round" />
<polyline points="306.40,454.39 306.91,454.38 307.42,454.46 307.92,454.29 308.43,454.27 308.94,454.26 309.45,454.11 309.96,454.17 310.47,454.17 310.98,454.19 311.48,453.94 311.99,453.97 312.50,453.88 313.00,453.73 313.50,453.32 314.00,452.76 314.50,452.81 315.00,452.57 315.50,452.25 316.20,451.89 316.90,451.38 317.45,450.92 318.00,450.71 318.70,447.95 319.25,447.66 319.80,447.34 320.50,448.24 321.30,445.57 322.00,444.45 322.70,447.71 323.50,446.41 324.20,447.59 324.90,445.60 325.60,447.90 326.15,448.68 326.70,449.50 327.25,450.56 327.80,451.28 328.30,451.68 328.80,452.10 329.30,452.44 329.90,452.79 330.50,453.17 331.10,453.47 331.70,453.95 332.30,454.10 332.90,454.50 333.41,454.36 333.92,454.53 334.42,454.49 334.93,454.23 335.44,454.29 335.95,454.50 336.45,454.36 336.96,454.51 337.47,454.33 337.98,454.23 338.48,454.40 338.99,454.44 339.50,454.28 340.01,454.22 340.52,454.29 341.02,454.48 341.53,454.41 342.04,454.22 342.55,454.25 343.05,454.20 343.56,454.19 344.07,454.40 344.58,454.21 345.08,454.33 345.59,454.29 346.10,454.21 346.60,454.07 347.10,453.59 347.60,453.44 348.10,452.55 348.60,451.91 349.10,451.10 349.70,450.51 350.30,450.21 350.85,449.21 351.40,447.99 352.20,446.48 352.90,448.75 353.70,445.72 354.40,436.51 355.20,435.41 356.00,440.05 356.70,442.50 357.50,429.36 358.20,434.84 359.00,438.55 359.80,432.61 360.50,439.56 361.30,437.65 362.00,440.86 362.80,443.67 363.60,445.61 364.30,448.16 364.90,449.19 365.50,450.38 366.05,451.51 366.60,452.30 367.10,452.69 367.60,453.14 368.10,453.30 368.68,453.50 369.25,453.92 369.82,454.10 370.40,454.12 370.91,454.11 371.41,454.27 371.92,454.33 372.43,454.11 372.93,454.34 373.44,454.31 373.95,454.23 374.45,454.18 374.96,454.08 375.47,454.06 375.97,454.34 376.48,454.12 376.99,454.26 377.49,454.13 378.00,454.30 378.55,454.18 379.10,454.04 379.65,453.95 380.20,454.07 380.80,452.27 381.40,450.70 382.00,449.63 382.60,448.60 383.20,449.65 383.80,444.62 384.40,441.46 385.00,445.78 385.60,439.23 386.20,429.57 386.80,418.89 387.40,421.68 388.00,431.85 388.60,426.12 389.20,413.15 389.80,408.43 390.40,424.91 391.00,428.40 391.60,425.01 392.20,427.92 392.80,417.00 393.40,420.38 394.00,431.78 394.60,434.08 395.20,439.23 395.80,442.61 396.40,444.77 397.00,446.82 397.60,448.13 398.20,450.16 398.80,451.79 399.40,452.77 400.00,453.55 400.60,454.05 401.20,454.07 401.71,454.21 402.21,454.27 402.72,454.32 403.23,454.27 403.74,454.26 404.24,454.29 404.75,454.32 405.26,454.16 405.76,454.26 406.27,454.32 406.78,454.31 407.29,454.18 407.79,454.29 408.30,454.31 408.80,453.69 409.30,453.17 409.80,452.56 410.30,449.51 410.80,446.41 411.30,442.81 412.10,444.82 412.80,437.49 413.60,432.86 414.40,427.87 415.10,419.27 415.90,404.19 416.60,411.77 417.40,405.18 418.20,420.21 418.90,390.13 419.70,409.03 420.40,399.61 421.20,416.61 422.00,403.66 422.70,418.93 423.50,427.81 424.20,435.30 425.00,441.72 425.80,446.60 426.30,447.99 426.80,449.75 427.30,451.74 427.80,452.65 428.30,453.31 428.80,454.10 429.33,454.29 429.85,454.18 430.38,454.07 430.91,454.17 431.44,453.97 431.96,454.03 432.49,453.86 433.02,453.89 433.55,453.96 434.07,453.96 434.60,453.91 435.10,452.97 435.60,452.22 436.15,451.89 436.70,451.58 437.20,448.85 437.70,446.25 438.30,445.18 438.80,447.14 439.30,442.27 439.80,442.69 440.30,437.26 440.90,438.64 441.40,435.27 441.90,426.60 442.40,419.72 442.90,430.63 443.50,434.49 444.00,424.81 444.50,419.61 445.00,428.21 445.50,433.42 446.10,427.45 446.60,428.39 447.10,435.08 447.60,439.16 448.15,443.05 448.70,446.05 449.20,447.99 449.70,450.33 450.20,451.34 450.70,452.69 451.25,453.29 451.80,453.66 452.30,454.15 452.80,454.22 453.31,454.19 453.82,454.16 454.32,454.33 454.83,454.27 455.34,454.32 455.85,454.32 456.35,454.37 456.86,454.41 457.37,454.32 457.88,454.17 458.38,454.25 458.89,454.16 459.40,454.10 459.91,454.24 460.42,454.31 460.92,454.14 461.43,454.17 461.94,454.18 462.45,454.29 462.95,454.23 463.46,454.25 463.97,454.29 464.48,454.18 464.98,454.30 465.49,454.33 466.00,454.08 466.50,454.08 467.00,453.77 467.50,453.34 468.00,453.19 468.60,452.54 469.20,451.93 469.85,452.06 470.50,452.42 471.00,452.91 471.50,453.29 472.00,453.73 472.50,453.74 473.00,453.95 473.50,453.96 474.00,454.27 474.51,454.22 475.02,454.09 475.53,454.03 476.04,453.80 476.56,453.93 477.07,453.88 477.58,453.80 478.09,453.58 478.60,453.50 479.23,452.63 479.87,451.77 480.50,450.90 481.20,443.10 481.80,437.90 482.50,428.80 483.10,419.70 483.80,411.90 484.40,402.80 484.90,380.00 485.20,350.00 485.80,326.00 486.40,325.60 487.00,330.00 487.60,326.00 488.20,335.00 488.60,348.00 489.00,376.00 489.60,390.00 490.30,408.00 490.90,421.00 491.60,434.00 492.20,444.40 492.70,448.30 493.20,452.20 493.85,453.20 494.50,454.20 495.00,453.20 495.50,452.20 496.40,447.00 497.10,439.20 497.80,427.50 498.40,414.50 499.00,395.00 499.40,340.00 499.80,300.00 500.40,240.00 500.94,240.00 501.49,240.00 502.03,240.00 502.57,240.00 503.11,240.00 503.66,240.00 504.20,240.00 504.70,300.00 505.20,340.00 505.60,364.00 506.00,388.00 506.50,404.00 507.00,420.00 507.60,440.00 508.30,452.00 509.00,454.00 509.50,454.00 510.00,454.00 510.50,454.00 511.00,454.00 511.50,454.00 512.00,454.00 512.50,454.00 513.00,454.00 513.50,454.00 514.00,454.00 514.50,454.00 515.00,454.00 515.50,454.00 516.00,454.00 516.50,454.00 517.00,454.00 517.50,454.00 518.00,454.00 518.50,454.00 519.00,454.00 519.50,454.00 520.00,454.00 520.50,454.00 521.00,454.00 521.50,454.00 522.00,454.00 522.50,454.00 523.00,454.00" fill="none" stroke="#0000ff" stroke-width="2.0" stroke-linejoin="round" />
<rect x="500.0" y="246" width="5.0" height="30" fill="#0000ff"/>
<polyline points="502.30,290.00 502.80,274.80 503.50,300.00 503.80,323.80 504.40,364.00 505.60,307.20 506.80,368.00 508.60,327.00 510.20,377.00 511.90,308.00 513.30,381.00 514.60,327.80 516.30,384.00 518.20,334.00 519.80,387.00 521.40,355.70 523.00,390.00 524.40,379.00 525.20,393.00 526.00,404.00 527.60,412.00 528.40,418.40" fill="none" stroke="#ff0000" stroke-width="1.9" stroke-linejoin="round" />
</g>
<line x1="306.00" y1="246.60" x2="306.00" y2="458.50" stroke="#1a1a1a" stroke-width="1.5"/>
<line x1="306.00" y1="457.90" x2="533.40" y2="457.90" stroke="#1a1a1a" stroke-width="1.6"/>
<line x1="346.10" y1="457.90" x2="346.10" y2="462.40" stroke="#1a1a1a" stroke-width="1.4"/>
<line x1="395.73" y1="457.90" x2="395.73" y2="462.40" stroke="#1a1a1a" stroke-width="1.4"/>
<line x1="445.35" y1="457.90" x2="445.35" y2="462.40" stroke="#1a1a1a" stroke-width="1.4"/>
<line x1="494.98" y1="457.90" x2="494.98" y2="462.40" stroke="#1a1a1a" stroke-width="1.4"/>
<line x1="321.29" y1="457.90" x2="321.29" y2="460.80" stroke="#1a1a1a" stroke-width="1.4"/>
<line x1="370.91" y1="457.90" x2="370.91" y2="460.80" stroke="#1a1a1a" stroke-width="1.4"/>
<line x1="420.54" y1="457.90" x2="420.54" y2="460.80" stroke="#1a1a1a" stroke-width="1.4"/>
<line x1="470.16" y1="457.90" x2="470.16" y2="460.80" stroke="#1a1a1a" stroke-width="1.4"/>
<line x1="519.79" y1="457.90" x2="519.79" y2="460.80" stroke="#1a1a1a" stroke-width="1.4"/>
<text x="325.52" y="476.40" style="font-family:'Liberation Sans';font-size:13.2px;font-style:normal" fill="#151515">20,700</text>
<text x="375.15" y="476.40" style="font-family:'Liberation Sans';font-size:13.2px;font-style:normal" fill="#151515">20,750</text>
<text x="424.77" y="476.40" style="font-family:'Liberation Sans';font-size:13.2px;font-style:normal" fill="#151515">20,800</text>
<text x="474.40" y="476.40" style="font-family:'Liberation Sans';font-size:13.2px;font-style:normal" fill="#151515">20,850</text>
<text transform="translate(330.90,492.40) scale(1.0048,1)" x="-0.93" y="0" style="font-family:'Liberation Sans';font-size:14.35px;font-style:normal" fill="#151515">laser wavenumber [cm</text>
<text transform="translate(475.00,486.00) scale(1.0633,1)" x="-0.43" y="0" style="font-family:'Liberation Sans';font-size:9.5px;font-style:normal" fill="#151515">−</text>
<text transform="translate(481.40,486.20) scale(0.6534,1)" x="-0.71" y="0" style="font-family:'Liberation Sans';font-size:9.5px;font-style:normal" fill="#151515">1</text>
<text transform="translate(485.00,492.40) scale(1.0878,1)" x="-0.07" y="0" style="font-family:'Liberation Sans';font-size:14.35px;font-style:normal" fill="#151515">]</text>
<text transform="translate(298.50,418.70) rotate(-90) scale(1.0206,1)" x="-1.12" y="0" style="font-family:'Liberation Sans';font-size:14px;font-style:normal" fill="#151515">LIF intensity [arb. units]</text>
<line x1="315.90" y1="313.10" x2="501.40" y2="313.10" stroke="#1a1a1a" stroke-width="1.6"/>
<line x1="319.30" y1="313.10" x2="319.30" y2="317.80" stroke="#1a1a1a" stroke-width="1.5"/>
<line x1="355.10" y1="313.10" x2="355.10" y2="317.80" stroke="#1a1a1a" stroke-width="1.5"/>
<line x1="387.50" y1="313.10" x2="387.50" y2="317.80" stroke="#1a1a1a" stroke-width="1.5"/>
<line x1="416.20" y1="313.10" x2="416.20" y2="317.80" stroke="#1a1a1a" stroke-width="1.5"/>
<line x1="442.70" y1="313.10" x2="442.70" y2="317.80" stroke="#1a1a1a" stroke-width="1.5"/>
<line x1="465.60" y1="313.10" x2="465.60" y2="317.80" stroke="#1a1a1a" stroke-width="1.5"/>
<line x1="485.20" y1="313.10" x2="485.20" y2="317.80" stroke="#1a1a1a" stroke-width="1.5"/>
<line x1="499.10" y1="313.10" x2="499.10" y2="317.80" stroke="#1a1a1a" stroke-width="1.5"/>
<text x="312.80" y="309.60" style="font-family:'Liberation Sans';font-size:11.2px;font-style:normal" fill="#151515">21</text>
<text x="348.95" y="309.60" style="font-family:'Liberation Sans';font-size:11.2px;font-style:normal" fill="#151515">22</text>
<text x="381.22" y="309.60" style="font-family:'Liberation Sans';font-size:11.2px;font-style:normal" fill="#151515">23</text>
<text x="409.84" y="309.60" style="font-family:'Liberation Sans';font-size:11.2px;font-style:normal" fill="#151515">24</text>
<text x="436.82" y="309.60" style="font-family:'Liberation Sans';font-size:11.2px;font-style:normal" fill="#151515">25</text>
<text x="460.02" y="309.60" style="font-family:'Liberation Sans';font-size:11.2px;font-style:normal" fill="#151515">26</text>
<text x="478.75" y="309.60" style="font-family:'Liberation Sans';font-size:11.2px;font-style:normal" fill="#151515">27</text>
<text x="492.52" y="309.60" style="font-family:'Liberation Sans';font-size:11.2px;font-style:normal" fill="#151515">28</text>
<text transform="translate(507.70,309.80) scale(1.1974,1)" x="-0.72" y="0" style="font-family:'Liberation Serif';font-size:16px;font-style:normal" fill="#151515">=</text>
<text transform="translate(519.10,309.10) scale(1.2479,1)" x="-0.60" y="0" style="font-family:'Liberation Serif';font-size:15px;font-style:italic" fill="#151515">υ</text>
<text transform="translate(527.30,314.30) scale(0.8587,1)" x="0.16" y="0" style="font-family:'Liberation Serif';font-size:10.5px;font-style:italic" fill="#151515">E</text>
<text transform="translate(533.20,314.30) scale(0.9872,1)" x="-0.21" y="0" style="font-family:'Liberation Serif';font-size:10.5px;font-style:normal" fill="#151515">in</text>
<polygon points="544.48,300.83 545.72,301.37 543.35,305.71 542.85,305.49" fill="#151515"/>
<text transform="translate(320.00,277.30) scale(1.0187,1)" x="0.21" y="0" style="font-family:'Liberation Serif';font-size:14px;font-style:italic" fill="#151515">E</text>
<text transform="translate(328.70,269.92) scale(0.7563,0.8955)" x="-0.38" y="0" style="font-family:'Liberation Serif';font-size:8.5px;font-style:normal;stroke:#151515;stroke-width:0.35px" fill="#151515">3</text>
<text transform="translate(333.10,277.30) scale(1.0323,0.8668)" x="-0.54" y="0" style="font-family:'Liberation Serif';font-size:15.5px;font-style:normal" fill="#2a2a2a">Σ</text>
<text transform="translate(341.80,270.60) scale(0.9907,1)" x="-0.38" y="0" style="font-family:'Liberation Serif';font-size:8.5px;font-style:normal" fill="#151515">+</text>
<text transform="translate(342.11,280.90) scale(1.0000,0.9888)" x="-0.81" y="0" style="font-family:'Liberation Serif';font-size:9.5px;font-style:normal;stroke:#151515;stroke-width:0.25px" fill="#151515">1</text>
<text transform="translate(349.10,281.10) scale(0.9573,1)" x="-0.18" y="0" style="font-family:'Liberation Serif';font-size:9px;font-style:normal" fill="#151515">in</text>
<text transform="translate(355.90,279.00) scale(0.9677,1)" x="-0.49" y="0" style="font-family:'Liberation Serif';font-size:14px;font-style:normal" fill="#151515">,</text>
<text transform="translate(361.40,276.50) scale(1.0806,1)" x="-0.56" y="0" style="font-family:'Liberation Serif';font-size:14px;font-style:italic" fill="#151515">υ</text>
<text transform="translate(368.60,281.40) scale(0.7075,1)" x="0.14" y="0" style="font-family:'Liberation Serif';font-size:9.5px;font-style:italic" fill="#151515">E</text>
<text transform="translate(374.00,281.40) scale(1.1762,1)" x="-0.19" y="0" style="font-family:'Liberation Serif';font-size:9.5px;font-style:normal" fill="#151515">in</text>
<polygon points="385.38,269.34 386.62,269.86 384.25,274.60 383.75,274.40" fill="#151515"/>
<line x1="394.60" y1="273.60" x2="406.60" y2="273.60" stroke="#444" stroke-width="0.9"/>
<polyline points="397.60,270.40 394.00,273.60 397.60,276.80" fill="none" stroke="#1a1a1a" stroke-width="1.05" stroke-linejoin="miter"/>
<text transform="translate(412.30,277.30) scale(1.1111,1)" x="-0.07" y="0" style="font-family:'Liberation Serif';font-size:14px;font-style:italic" fill="#151515">B</text>
<text transform="translate(423.50,272.22) scale(0.8683,0.9658)" x="-0.38" y="0" style="font-family:'Liberation Serif';font-size:8.5px;font-style:normal;stroke:#151515;stroke-width:0.35px" fill="#151515">3</text>
<text transform="translate(428.60,277.30) scale(1.2397,1)" x="-1.19" y="0" style="font-family:'Liberation Serif';font-size:14px;font-style:normal" fill="#151515">1,</text>
<text transform="translate(440.90,276.80) scale(1.0073,1)" x="-0.56" y="0" style="font-family:'Liberation Serif';font-size:14px;font-style:italic" fill="#151515">υ</text>
<text transform="translate(447.70,281.00) scale(0.9897,1)" x="-0.05" y="0" style="font-family:'Liberation Serif';font-size:9.5px;font-style:italic" fill="#151515">B</text>
<polygon points="457.19,268.60 458.41,269.20 456.25,272.72 455.75,272.48" fill="#151515"/>
<polygon points="459.59,268.60 460.81,269.20 458.65,272.72 458.15,272.48" fill="#151515"/>
<text transform="translate(464.10,276.77) scale(1.2088,0.7101)" x="-0.58" y="0" style="font-family:'Liberation Sans';font-size:13px;font-style:normal" fill="#151515">=</text>
<text transform="translate(475.50,277.40) scale(0.8842,0.9810)" x="-0.98" y="0" style="font-family:'Liberation Sans';font-size:13px;font-style:normal" fill="#151515">1</text>
<line x1="306.00" y1="438.40" x2="319.60" y2="438.40" stroke="#111" stroke-width="1.4"/>
<text transform="translate(510.80,412.60) scale(1.0276,1)" x="-0.78" y="0" style="font-family:'Liberation Sans';font-size:13px;font-style:normal" fill="#151515">(c)</text>
<text transform="translate(511.80,448.50) scale(1.0589,1)" x="-0.78" y="0" style="font-family:'Liberation Sans';font-size:13px;font-style:normal" fill="#151515">(d)</text>
</svg>
</body></html>
